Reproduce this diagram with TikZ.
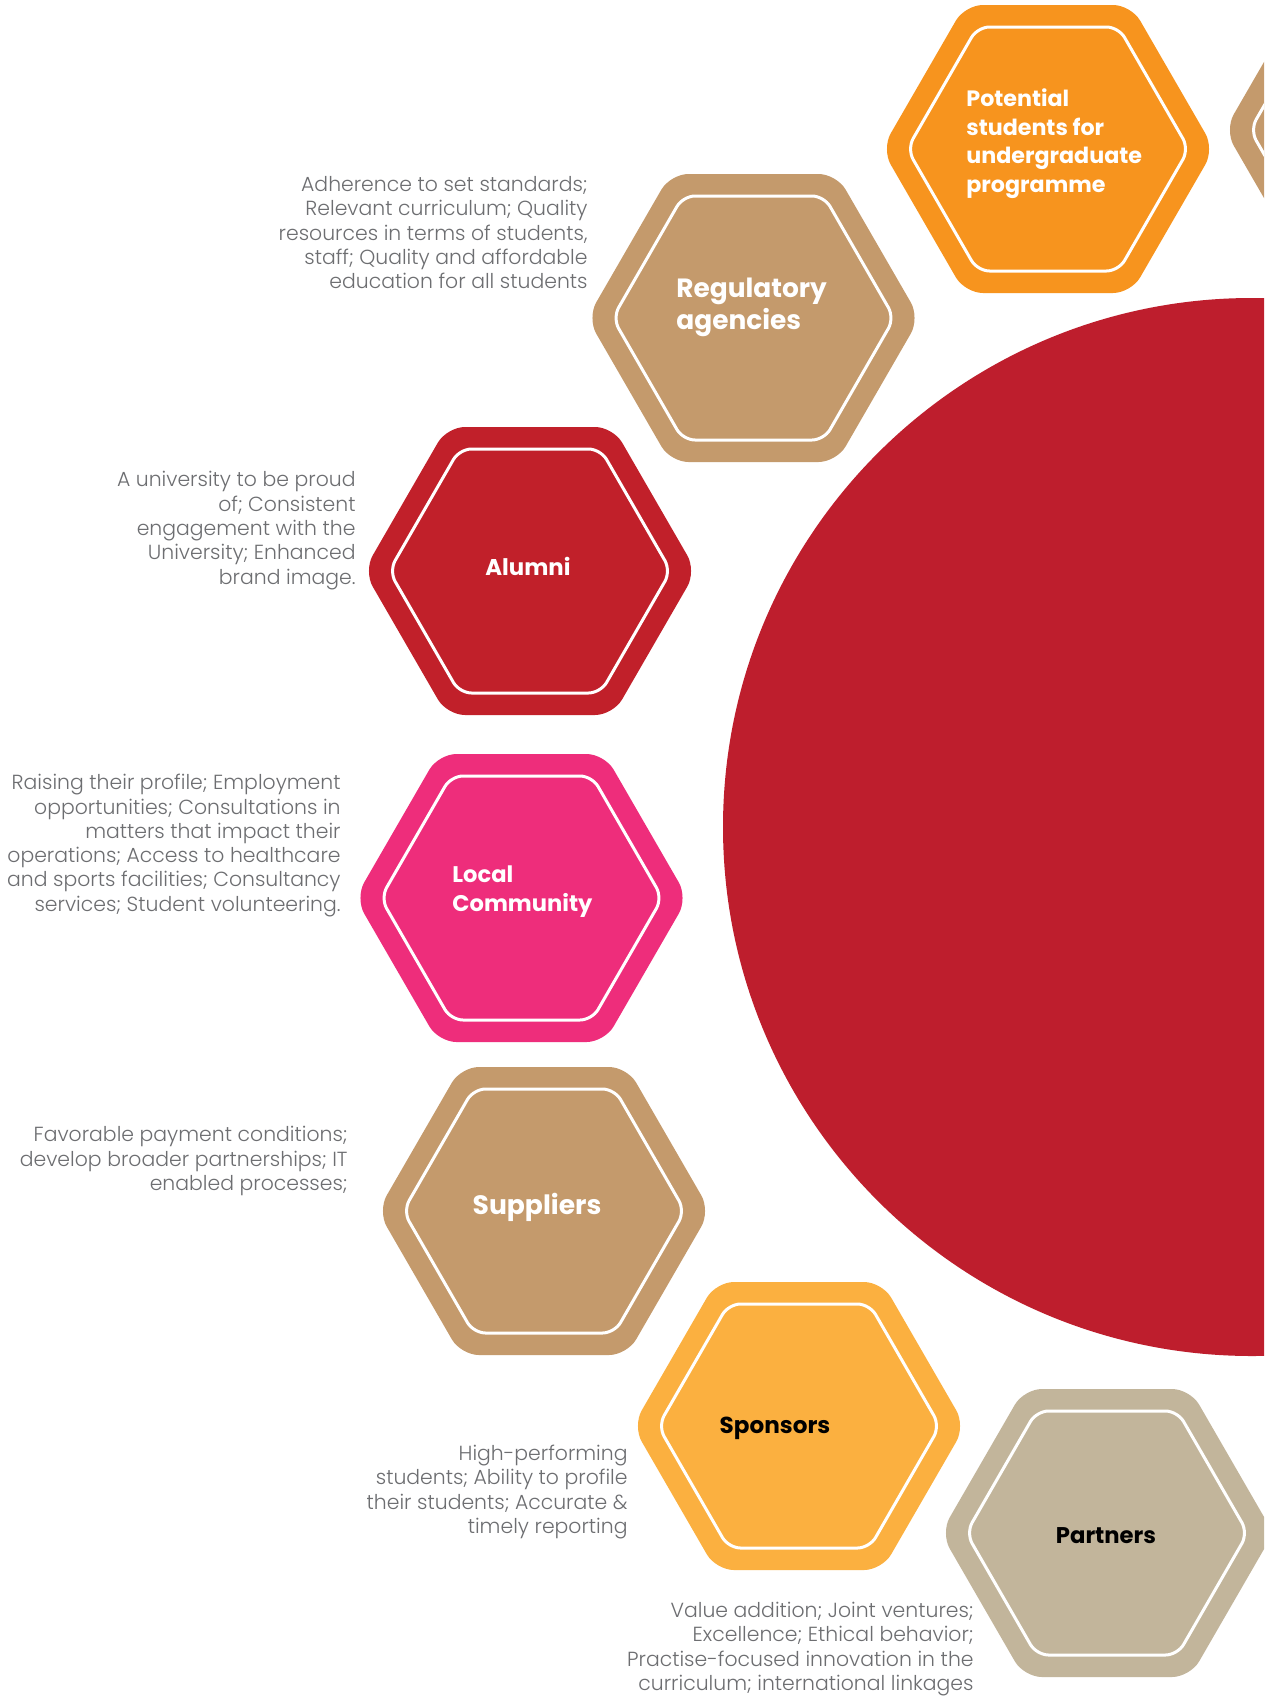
\documentclass[tikz,border=0pt]{standalone}
\usepackage{fontspec}
\setmainfont{Poppins}[UprightFont=* Light, BoldFont=* Bold]
\newfontfamily\labfont{Poppins}[UprightFont=* Bold]
\definecolor{cOrange}{HTML}{F7941E}
\definecolor{cTan}{HTML}{C49A6C}
\definecolor{cRed}{HTML}{C1202A}
\definecolor{cCircle}{HTML}{BE1E2D}
\definecolor{cPink}{HTML}{EE2D7B}
\definecolor{cSpons}{HTML}{FBB040}
\definecolor{cPart}{HTML}{C2B59B}
\definecolor{cGray}{HTML}{6D6E71}
\newcommand{\hexshape}[3]{%
  \begin{scope}[shift={(#1,#2)}]
    \fill[#3, rounded corners=9pt] (0,-144) -- (83.1,-144) -- (166.3,0) -- (83.1,144) -- (-83.1,144) -- (-166.3,0) -- (-83.1,-144) -- cycle;
    \draw[white, line width=1.5pt, rounded corners=6pt] (0,-122) -- (70.5,-122) -- (140.9,0) -- (70.5,122) -- (-70.5,122) -- (-140.9,0) -- (-70.5,-122) -- cycle;
  \end{scope}}
\tikzset{
  desc/.style={anchor=east, align=right, inner sep=0pt, text=cGray, font=\fontsize{10.2}{12.15}\selectfont},
  lab/.style={inner sep=0pt, text=white, font=\labfont\fontsize{11.1}{14.3}\selectfont},
}
\begin{document}
\begin{tikzpicture}[x=0.5pt,y=-0.5pt]
\useasboundingbox (0,0) rectangle (1264,1697);
\clip (0,0) rectangle (1264,1697);
\fill[white] (0,0) rectangle (1264,1697);
% central circle
\fill[cCircle] (1252,827) circle[radius=529];
% hexagons
\hexshape{1048}{149}{cOrange}
\hexshape{1391}{130}{cTan}
\hexshape{753.5}{318}{cTan}
\hexshape{530}{571}{cRed}
\hexshape{521.5}{898}{cPink}
\hexshape{544}{1211}{cTan}
\hexshape{799}{1426}{cSpons}
\hexshape{1107}{1533}{cPart}
% labels
\node[lab, anchor=west, align=left] (pot) at (966,143.5) {Potential\\students for\\undergraduate\\programme};
\node[lab, anchor=west, align=left, font=\labfont\fontsize{13.2}{16.25}\selectfont] (reg) at (676,307.5) {Regulatory\\agencies};
\node[lab, font=\labfont\fontsize{11.4}{14}\selectfont] (alu) at (528,566) {Alumni};
\node[lab, anchor=west, align=left, font=\labfont\fontsize{11.3}{14.25}\selectfont] (loc) at (452,891.5) {Local\\Community};
\node[lab, font=\labfont\fontsize{13.3}{15}\selectfont] (sup) at (537,1207) {Suppliers};
\node[lab, text=black, font=\labfont\fontsize{11.55}{14}\selectfont] (spo) at (775,1428) {Sponsors};
\node[lab, text=black, font=\labfont\fontsize{11.35}{14}\selectfont] (par) at (1106,1536) {Partners};
% descriptions
\node[desc] (dreg) at (588,232.6) {Adherence to set standards;\\Relevant curriculum; Quality\\resources in terms of students,\\staff; Quality and affordable\\education for all students};
\node[desc] (dalu) at (356,530.5) {A university to be proud\\of; Consistent\\engagement with the\\University; Enhanced\\brand image.};
\node[desc] (dloc) at (341,845.5) {Raising their profile; Employment\\opportunities; Consultations in\\matters that impact their\\operations; Access to healthcare\\and sports facilities; Consultancy\\services; Student volunteering.};
\node[desc] (dsup) at (348,1161) {Favorable payment conditions;\\develop broader partnerships; IT\\enabled processes;};
\node[desc] (dspo) at (628,1492) {High-performing\\students; Ability to profile\\their students; Accurate \&\\timely reporting};
\node[desc] (dpar) at (974,1649) {Value addition; Joint ventures;\\Excellence; Ethical behavior;\\Practise-focused innovation in the\\curriculum; international linkages};
\end{tikzpicture}
\end{document}
